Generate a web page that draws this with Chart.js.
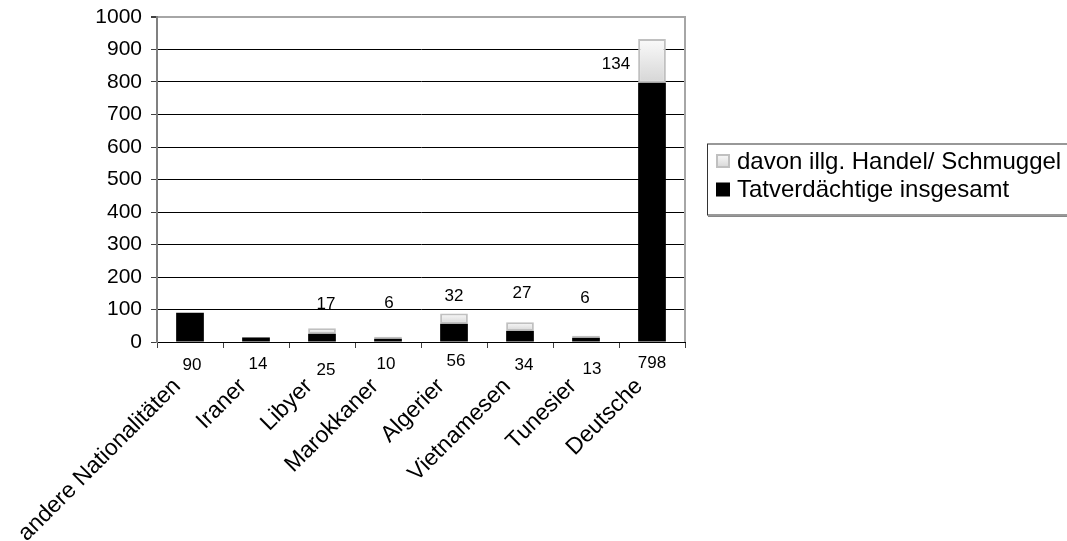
<!DOCTYPE html>
<html>
<head>
<meta charset="utf-8">
<script src="https://cdn.jsdelivr.net/npm/chart.js@4/dist/chart.umd.min.js"></script>
<style>
  html, body { margin: 0; padding: 0; background: #fff; }
  #wrap { width: 1067px; height: 541px; position: relative; }
</style>
</head>
<body>
<div id="wrap"><canvas id="c" width="1067" height="541"></canvas></div>
<script>
// Categories and values
const categories = ['andere Nationalitäten', 'Iraner', 'Libyer', 'Marokkaner', 'Algerier', 'Vietnamesen', 'Tunesier', 'Deutsche'];
const suspectsTotal = [90, 14, 25, 10, 56, 34, 13, 798];
const smugglingShare = [null, null, 17, 6, 32, 27, 6, 134];
const yTicks = [0, 100, 200, 300, 400, 500, 600, 700, 800, 900, 1000];
const seriesNames = ['Tatverdächtige insgesamt', 'davon illg. Handel/ Schmuggel'];

// Hand-placed value labels: [dx, dy] nudges in pixels
const totalLabelNudge = [[2, 23], [2, 22], [4, 28], [-2, 22], [2, 19], [4, 23], [6, 27], [0, 21]];
const shareLabelNudge = [null, null, [4, -24], [1, -33], [0, -17], [2, -29], [-1, -38], [-36, 25]];

const FONT = '"Liberation Sans", Arial, Helvetica, sans-serif';
Chart.defaults.font.family = FONT;
Chart.defaults.color = '#000';

function shareFill(ctx) {
  const chart = ctx.chart;
  const i = ctx.dataIndex;
  const y = chart.scales && chart.scales.y;
  if (!y || smugglingShare[i] == null || !isFinite(y.getPixelForValue(0))) return '#ececec';
  const top = y.getPixelForValue(suspectsTotal[i] + smugglingShare[i]);
  const bot = y.getPixelForValue(suspectsTotal[i]);
  if (!(bot > top)) return '#ececec';
  const g = chart.ctx.createLinearGradient(0, top, 0, bot);
  g.addColorStop(0, '#fafafa');
  g.addColorStop(1, '#d6d6d6');
  return g;
}

const decorations = {
  id: 'decorations',
  afterDatasetsDraw(chart) {
    const { ctx, chartArea: a, scales: { x, y } } = chart;
    ctx.save();

    // right frame of the plot area
    ctx.strokeStyle = '#a6a6a6';
    ctx.lineWidth = 2;
    ctx.beginPath();
    ctx.moveTo(a.right, a.top - 1);
    ctx.lineTo(a.right, a.bottom);
    ctx.stroke();

    // value labels
    ctx.font = '17px ' + FONT;
    ctx.fillStyle = '#000';
    ctx.textAlign = 'center';
    ctx.textBaseline = 'middle';
    categories.forEach((c, i) => {
      const cx = x.getPixelForValue(i);
      const [dx, dy] = totalLabelNudge[i];
      ctx.fillText(String(suspectsTotal[i]), cx + dx, a.bottom + dy);
      if (smugglingShare[i] != null) {
        const top = y.getPixelForValue(suspectsTotal[i] + smugglingShare[i]);
        const [sx, sy] = shareLabelNudge[i];
        ctx.fillText(String(smugglingShare[i]), cx + sx, top + sy);
      }
    });

    // legend box
    const mid = (a.top + a.bottom) / 2;
    const left = a.right + 22;
    const top = mid - 36;
    ctx.fillStyle = '#fff';
    ctx.fillRect(left, top, 420, 72);
    ctx.strokeStyle = '#333';
    ctx.lineWidth = 1;
    ctx.strokeRect(left + 0.5, top + 0.5, 420, 71);
    ctx.strokeStyle = '#888';
    ctx.beginPath();
    ctx.moveTo(left + 1, top + 73);
    ctx.lineTo(left + 421, top + 73);
    ctx.stroke();

    const rows = [
      { ds: chart.data.datasets[1], cy: mid - 18.5, gray: true },
      { ds: chart.data.datasets[0], cy: mid + 10, gray: false }
    ];
    ctx.font = '24px ' + FONT;
    ctx.textAlign = 'left';
    ctx.textBaseline = 'middle';
    rows.forEach(r => {
      const sx = left + 9, sy = r.cy - 7, s = 14;
      if (r.gray) {
        const g = ctx.createLinearGradient(0, sy, 0, sy + s);
        g.addColorStop(0, '#fafafa');
        g.addColorStop(1, '#d6d6d6');
        ctx.fillStyle = g;
        ctx.fillRect(sx, sy, s, s);
        ctx.strokeStyle = '#c0c0c0';
        ctx.lineWidth = 2;
        ctx.strokeRect(sx + 1, sy + 1, s - 2, s - 2);
      } else {
        ctx.fillStyle = '#000';
        ctx.fillRect(sx, sy, s, s);
      }
      ctx.fillStyle = '#000';
      ctx.fillText(r.ds.label, left + 30, r.cy + 1);
    });

    ctx.restore();
  }
};

new Chart(document.getElementById('c'), {
  type: 'bar',
  data: {
    labels: categories,
    datasets: [
      {
        label: seriesNames[0],
        data: suspectsTotal,
        backgroundColor: '#000',
        borderWidth: 0,
        categoryPercentage: 1,
        barPercentage: 0.42
      },
      {
        label: seriesNames[1],
        data: smugglingShare,
        backgroundColor: shareFill,
        borderColor: '#c0c0c0',
        borderWidth: 2,
        borderSkipped: false,
        categoryPercentage: 1,
        barPercentage: 0.42
      }
    ]
  },
  options: {
    responsive: false,
    devicePixelRatio: 1,
    animation: false,
    layout: { padding: { left: 0, right: 382, top: 0, bottom: 0 } },
    plugins: {
      legend: { display: false },
      tooltip: { enabled: false }
    },
    scales: {
      x: {
        stacked: true,
        afterFit: s => { s.height = 199; },
        grid: {
          display: true,
          drawOnChartArea: false,
          drawTicks: true,
          tickLength: 6,
          color: '#404040',
          offset: true
        },
        border: { display: true, color: '#000', width: 1 },
        ticks: {
          font: { size: 23 },
          color: '#000',
          minRotation: 45,
          maxRotation: 45,
          autoSkip: false,
          padding: 25,
          labelOffset: -13
        }
      },
      y: {
        stacked: true,
        min: 0,
        max: 1000,
        afterBuildTicks: s => { s.ticks = yTicks.map(v => ({ value: v })); },
        afterFit: s => { s.width = 157; s.paddingTop = 17; },
        grid: {
          color: c => (c.tick && c.tick.value === 1000 ? '#a6a6a6' : '#000'),
          lineWidth: c => (c.tick && c.tick.value === 1000 ? 2 : 1),
          tickColor: '#404040',
          tickLength: 6
        },
        border: { display: true, color: '#808080', width: 2 },
        ticks: {
          font: { size: 21 },
          color: '#000',
          padding: 9,
          callback: v => String(v)
        }
      }
    }
  },
  plugins: [decorations]
});
</script>
</body>
</html>
